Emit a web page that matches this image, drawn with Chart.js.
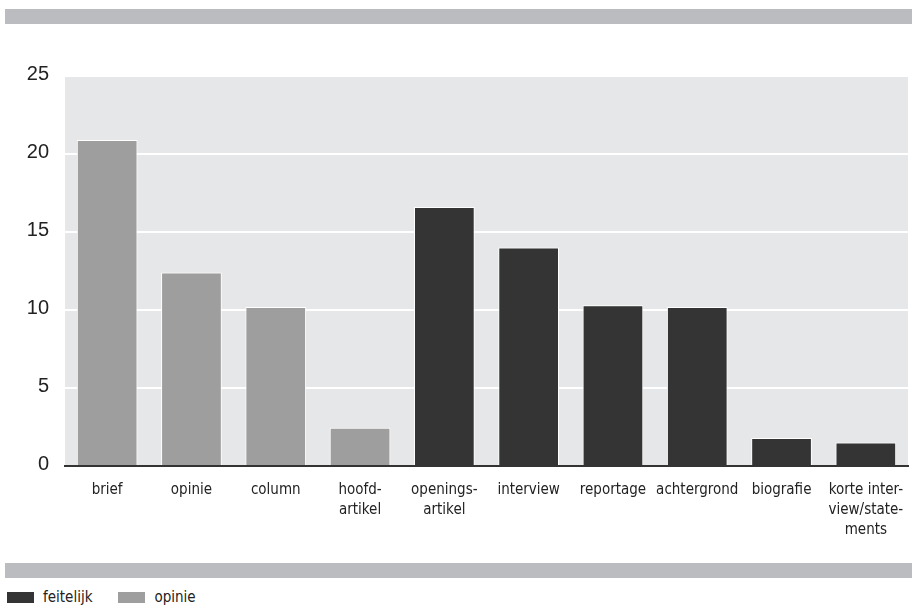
<!DOCTYPE html>
<html>
<head>
<meta charset="utf-8">
<script src="https://cdn.jsdelivr.net/npm/chart.js@4.4.1/dist/chart.umd.min.js"></script>
<style>
  html, body { margin: 0; padding: 0; background: #fff; }
  #page { position: relative; width: 922px; height: 609px; overflow: hidden; }
  .band { position: absolute; left: 5px; width: 907px; height: 15px; background: #bbbcbf; }
  #chartBox { position: absolute; left: 0; top: 0; }
  #legend { position: absolute; left: 7px; top: 588px; display: flex;
    font-family: "DejaVu Sans Condensed", "Liberation Sans Narrow", sans-serif;
    font-size: 15px; color: #222; }
  .item { display: flex; align-items: center; margin-right: 26px; }
  .swatch { width: 27px; height: 11px; margin-right: 9px; }
</style>
</head>
<body>
<div id="page">
  <div class="band" style="top:9px"></div>
  <div id="chartBox"><canvas id="myChart" width="922" height="560"></canvas></div>
  <div class="band" style="top:563px"></div>
  <div id="legend"></div>
</div>
<script>
'use strict';

// categories on the x axis (multi-line labels as arrays)
const categories = [
  'brief', 'opinie', 'column', ['hoofd-', 'artikel'], ['openings-', 'artikel'],
  'interview', 'reportage', 'achtergrond', 'biografie', ['korte inter-', 'view/state-', 'ments']
];
// opinion pieces (grey bars)
const opinieValues = [20.9, 12.4, 10.2, 2.45, null, null, null, null, null, null];
// factual pieces (dark bars)
const feitelijkValues = [null, null, null, null, 16.6, 14.0, 10.3, 10.2, 1.8, 1.5];
// y axis ticks
const yTicks = [0, 5, 10, 15, 20, 25];

const labelFont = '"DejaVu Sans Condensed", "Liberation Sans Narrow", sans-serif';

// fill the plot area with the light grey background
const plotBackground = {
  id: 'plotBackground',
  beforeDraw(chart) {
    const { ctx, chartArea } = chart;
    ctx.save();
    ctx.fillStyle = '#e6e7e8';
    ctx.fillRect(chartArea.left, chartArea.top, chartArea.right - chartArea.left, chartArea.bottom - chartArea.top);
    ctx.restore();
  }
};

const data = {
  labels: categories,
  datasets: [
    {
      label: 'feitelijk',
      data: feitelijkValues,
      backgroundColor: '#343434',
      borderColor: '#ffffff',
      borderWidth: 1
    },
    {
      label: 'opinie',
      data: opinieValues,
      backgroundColor: '#9e9e9e',
      borderColor: '#ffffff',
      borderWidth: 1
    }
  ]
};

const config = {
  type: 'bar',
  data: data,
  options: {
    responsive: false,
    animation: false,
    categoryPercentage: 1,
    barPercentage: 0.72,
    layout: { padding: { top: 76, right: 14, bottom: 0, left: 0 } },
    plugins: {
      legend: { display: false },
      tooltip: { enabled: false }
    },
    scales: {
      x: {
        stacked: true,
        z: 1,
        grid: { display: false, drawTicks: false },
        border: { display: true, color: '#333333', width: 2 },
        ticks: {
          color: '#222',
          padding: 14,
          maxRotation: 0,
          autoSkip: false,
          font: { family: labelFont, size: 15, lineHeight: 1.33 }
        },
        afterFit(scale) { scale.height = 94; }
      },
      y: {
        stacked: true,
        min: 0,
        max: 25,
        afterBuildTicks(scale) { scale.ticks = yTicks.map(v => ({ value: v })); },
        grid: { color: '#ffffff', lineWidth: 2, drawTicks: false },
        border: { display: false },
        ticks: {
          color: '#222',
          padding: 16,
          labelOffset: -2,
          font: { family: '"Liberation Sans", Arial, sans-serif', size: 20 }
        },
        afterFit(scale) { scale.width = 65; }
      }
    }
  },
  plugins: [plotBackground]
};

const myChart = new Chart(document.getElementById('myChart'), config);

// legend built from the chart's datasets
const legendBox = document.getElementById('legend');
myChart.data.datasets.forEach(ds => {
  const item = document.createElement('div');
  item.className = 'item';
  const swatch = document.createElement('span');
  swatch.className = 'swatch';
  swatch.style.background = ds.backgroundColor;
  const text = document.createElement('span');
  text.textContent = ds.label;
  item.appendChild(swatch);
  item.appendChild(text);
  legendBox.appendChild(item);
});
</script>
</body>
</html>
